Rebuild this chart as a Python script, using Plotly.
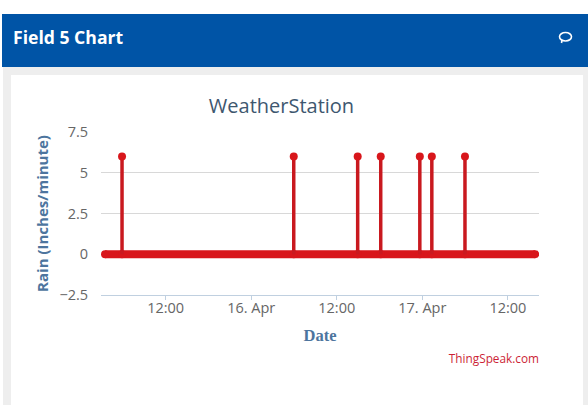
import plotly.graph_objects as go

W, H = 588, 405

# Data
spike_times = ["2024-04-15 05:53", "2024-04-16 05:58", "2024-04-16 14:56", "2024-04-16 18:10",
               "2024-04-16 23:39", "2024-04-17 01:20", "2024-04-17 05:59"]
spike_values = [6, 6, 6, 6, 6, 6, 6]
zero_times = ["2024-04-15 03:30", "2024-04-15 05:53", "2024-04-16 05:58", "2024-04-16 14:56",
              "2024-04-16 18:10", "2024-04-16 23:39", "2024-04-17 01:20", "2024-04-17 05:59",
              "2024-04-17 15:50"]
zero_values = [0, 0, 0, 0, 0, 0, 0, 0, 0]
x_tick_times = ["2024-04-15 12:00", "2024-04-16 00:00", "2024-04-16 12:00", "2024-04-17 00:00", "2024-04-17 12:00"]
x_tick_labels = ["12:00", "16. Apr", "12:00", "17. Apr", "12:00"]
y_tick_values = [-2.5, 0, 2.5, 5, 7.5]
x_range = ["2024-04-15 02:56", "2024-04-17 16:22"]
y_range = [-2.5, 7.5]

RED = "#d8161b"
SPIKE = "#c9191f"
BLUE = "#0054a6"
GREY = "#eeeeee"
FONT = "Open Sans, sans-serif"


def px(x):
    return x / W


def py(y):
    return 1 - y / H


def rect(x0, y0, x1, y1, color, **kw):
    return dict(type="rect", xref="paper", yref="paper", x0=px(x0), x1=px(x1), y0=py(y0), y1=py(y1),
                fillcolor=color, line_width=0, layer="below", **kw)


shapes = [
    rect(3, 67, 588, 405, GREY),
    rect(11, 75, 583, 405, "white"),
    rect(2, 14, 588, 67, BLUE),
    rect(2, 14, 300, 63.5, "rgba(0,0,0,0)",
         label=dict(text="<b>Field 5 Chart</b>", textposition="middle left", padding=8,
                    font=dict(size=17.6, color="white", family=FONT))),
    rect(400, 351.5, 543, 366.5, "rgba(0,0,0,0)",
         label=dict(text="ThingSpeak.com", textposition="middle right", padding=1,
                    font=dict(size=11.8, color="#cc1f36", family=FONT))),
    dict(type="circle", xref="paper", yref="paper", x0=px(559.5), x1=px(571.5), y0=py(32.5), y1=py(41),
         line=dict(color="white", width=1.6), fillcolor="rgba(0,0,0,0)", layer="above"),
    dict(type="line", xref="paper", yref="paper", x0=px(562), x1=px(561.5), y0=py(40), y1=py(43),
         line=dict(color="white", width=1.6), layer="above"),
]

fig = go.Figure()
fig.add_trace(go.Scatter(x=zero_times, y=zero_values, mode="lines+markers",
                         line=dict(color=RED, width=8), marker=dict(color=RED, size=8)))
fig.add_trace(go.Scatter(x=spike_times, y=spike_values, mode="markers",
                         marker=dict(color=RED, size=8),
                         error_y=dict(type="data", symmetric=False, array=[0] * len(spike_values),
                                      arrayminus=spike_values, color=SPIKE, thickness=3.5, width=0)))

fig.update_layout(
    width=W, height=H, autosize=False, showlegend=False,
    margin=dict(l=0, r=0, t=0, b=0, autoexpand=False), paper_bgcolor="white", plot_bgcolor="rgba(0,0,0,0)",
    shapes=shapes,
    font=dict(family=FONT),
    title=dict(text="WeatherStation", x=281.5 / W, xanchor="center", y=py(106), yanchor="middle",
               font=dict(size=20, color="#3e576f", family=FONT)),
    xaxis=dict(domain=[px(101), px(539)], type="date", range=x_range,
               tickmode="array", tickvals=x_tick_times, ticktext=x_tick_labels,
               showgrid=False, zeroline=False, showline=True, linecolor="#c0d0e0", linewidth=1,
               ticks="outside", ticklen=4, tickcolor="#c0d0e0", ticklabelstandoff=-4,
               tickfont=dict(size=14.5, color="#666666", family=FONT),
               title=dict(text="<b>Date</b>", standoff=13,
                          font=dict(size=16.5, color="#4d759e", family="Liberation Serif, serif"))),
    yaxis=dict(domain=[py(295), py(132)], range=y_range, tickmode="array", tickvals=y_tick_values,
               ticktext=["\u22122.5", "0", "2.5", "5", "7.5"],
               showgrid=True, gridcolor="#d8d8d8", gridwidth=1.3, zeroline=False, showline=False,
               ticks="outside", ticklen=9, tickcolor="rgba(0,0,0,0)",
               tickfont=dict(size=14.5, color="#666666", family=FONT),
               title=dict(text="<b>Rain (Inches/minute)</b>", standoff=7,
                          font=dict(size=15, color="#4d759e", family=FONT))),
)

fig.write_html("out.html", config=dict(displayModeBar=False),
               post_script="document.body.style.margin='0';")
